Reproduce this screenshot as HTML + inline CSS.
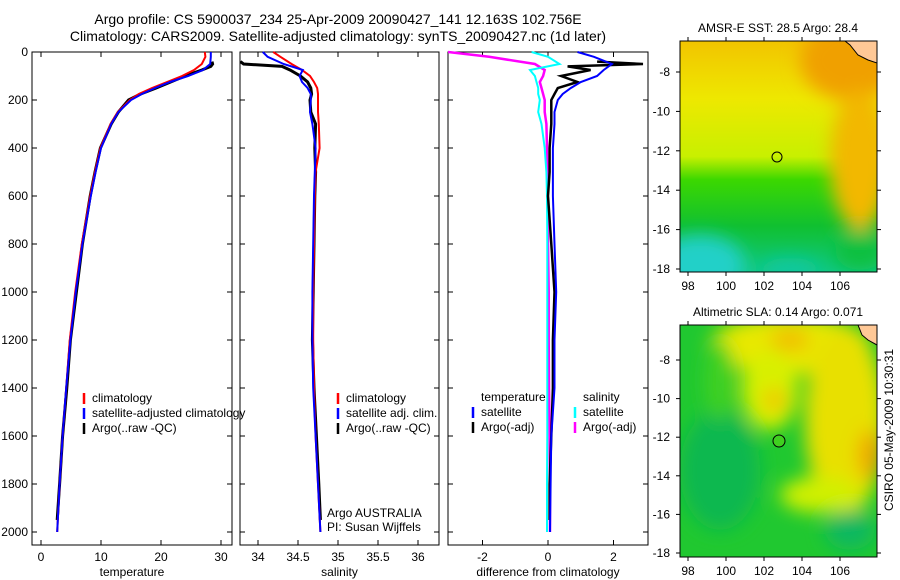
<!DOCTYPE html>
<html><head><meta charset="utf-8">
<style>
html,body{margin:0;padding:0;background:#fff;}
svg{display:block;font-family:"Liberation Sans",sans-serif;}
text{font-size:12px;fill:#000;}
</style></head>
<body>
<svg id="fig" width="900" height="580" viewBox="0 0 900 580">
<defs>
<filter id="blur" x="-20%" y="-20%" width="140%" height="140%"><feGaussianBlur stdDeviation="9"/></filter>
<clipPath id="clipM1"><rect x="680" y="41" width="197" height="231"/></clipPath>
<clipPath id="clipM2"><rect x="680" y="325" width="197" height="232"/></clipPath>
<linearGradient id="sstg" x1="0" y1="0" x2="0" y2="1">
<stop offset="0" stop-color="#f2c400"/><stop offset="0.25" stop-color="#eee800"/><stop offset="0.5" stop-color="#c8f000"/><stop offset="0.6" stop-color="#3cd800"/><stop offset="0.8" stop-color="#10c030"/><stop offset="1" stop-color="#10c880"/>
</linearGradient>
</defs>
<text x="338" y="24" text-anchor="middle" style="font-size:14px">Argo profile: CS 5900037_234 25-Apr-2009 20090427_141 12.163S 102.756E</text>
<text x="338" y="41" text-anchor="middle" style="font-size:14px">Climatology: CARS2009. Satellite-adjusted climatology: synTS_20090427.nc (1d later)</text>
<g id="panels"></g>

<g>
<g clip-path="url(#clipM1)">
<rect x="680" y="41" width="197" height="231" fill="url(#sstg)"/>
<g filter="url(#blur)">
<ellipse cx="850" cy="60" rx="50" ry="40" fill="#f0a000"/>
<ellipse cx="860" cy="160" rx="30" ry="70" fill="#f2b800"/>
<ellipse cx="700" cy="265" rx="45" ry="30" fill="#20d0c8"/>
<ellipse cx="790" cy="270" rx="30" ry="12" fill="#10c8a0"/>
<ellipse cx="860" cy="250" rx="25" ry="20" fill="#10c040"/>
</g>
<path d="M845 41 L850 45 L858 55 L868 60 L877 63 L877 41 Z" fill="#ffc896" stroke="#000" stroke-width="1"/>
</g>
<rect x="680" y="41" width="197" height="231" fill="none" stroke="#000"/>
<circle cx="777" cy="157" r="5" fill="none" stroke="#000"/>
</g>
<text x="778" y="32" text-anchor="middle">AMSR-E SST: 28.5 Argo: 28.4</text>

<g>
<g clip-path="url(#clipM2)">
<rect x="680" y="325" width="197" height="232" fill="#20c830"/>
<g filter="url(#blur)">
<ellipse cx="790" cy="345" rx="80" ry="30" fill="#e8e800"/>
<ellipse cx="845" cy="420" rx="40" ry="95" fill="#e8e000"/>
<ellipse cx="770" cy="390" rx="28" ry="40" fill="#d8f000"/>
<ellipse cx="775" cy="400" rx="12" ry="12" fill="#f0c800"/>
<ellipse cx="870" cy="455" rx="12" ry="25" fill="#f0a800"/>
<ellipse cx="790" cy="340" rx="20" ry="12" fill="#f0c000"/>
<ellipse cx="820" cy="495" rx="40" ry="18" fill="#d0f000"/>
<ellipse cx="720" cy="470" rx="40" ry="60" fill="#10b850"/>
<ellipse cx="850" cy="530" rx="25" ry="20" fill="#10b860"/>
<ellipse cx="720" cy="380" rx="15" ry="40" fill="#40d020"/>
</g>
<path d="M858 325 L862 335 L868 340 L877 345 L877 325 Z" fill="#ffc896" stroke="#000" stroke-width="1"/>
</g>
<rect x="680" y="325" width="197" height="232" fill="none" stroke="#000"/>
<circle cx="779" cy="441" r="6" fill="#40d020" stroke="#000"/>
</g>
<text x="778" y="316" text-anchor="middle">Altimetric SLA: 0.14 Argo: 0.071</text>
<text transform="translate(893,430) rotate(-90)" text-anchor="middle">CSIRO 05-May-2009 10:30:31</text>
<g id="mapaxes"></g>
</svg>
<script>
const tDepth = [0,20,50,75,100,125,150,175,200,250,300,400,500,600,800,1000,1200,1400,1600,1800,2000];
const tClim  = [27.3,27.4,26.8,25.5,23.5,21,18.5,16.3,14.8,12.8,11.6,9.9,9.0,8.2,6.8,5.7,4.8,4.2,3.6,3.1,2.7];
const tSat   = [28.3,28.3,28.2,27,24.5,21.5,19,16.8,15.0,12.9,11.7,10.0,9.1,8.3,6.9,5.8,4.9,4.2,3.6,3.1,2.7];
const argoDepth = [40,50,60,75,100,125,150,175,200,250,300,400,500,600,800,1000,1200,1400,1600,1800,1950];
const tArgo  = [28.5,28.6,28.3,26.8,24,21.6,19.2,16.6,14.6,12.9,11.7,9.9,9.0,8.2,6.9,5.9,4.9,4.3,3.6,3.1,2.7];
const sClim  = [34.19,34.28,34.42,34.55,34.65,34.70,34.74,34.75,34.75,34.75,34.76,34.77,34.72,34.71,34.70,34.69,34.69,34.70,34.72,34.75,34.78];
const sSat   = [34.06,34.12,34.32,34.56,34.52,34.55,34.62,34.66,34.66,34.65,34.68,34.72,34.71,34.70,34.69,34.68,34.68,34.69,34.72,34.75,34.78];
const sArgo  = [33.78,33.82,34.30,34.40,34.53,34.62,34.66,34.67,34.65,34.66,34.72,34.71,34.72,34.71,34.70,34.69,34.68,34.70,34.73,34.76,34.78];
const dTSat  = [0.9,1.4,1.95,1.7,1.5,1.0,0.7,0.45,0.3,0.2,0.2,0.15,0.15,0.15,0.2,0.25,0.2,0.2,0.1,0.08,0.06];
const dTArgo = [1.5,2.9,0.6,1.3,0.4,0.9,0.3,0.2,0.1,0.1,0.1,0.05,0.05,0.0,0.1,0.2,0.15,0.15,0.1,0.05,0.05];
const dSSat  = [-0.5,0.0,0.35,-0.55,-0.4,-0.35,-0.3,-0.3,-0.25,-0.3,-0.2,-0.1,-0.05,-0.03,-0.02,-0.02,-0.02,-0.02,-0.02,-0.03,-0.03];
const dSArgo = [-3.05,-1.8,-0.4,-0.1,-0.15,-0.25,-0.2,-0.15,-0.1,-0.1,-0.05,-0.03,-0.02,-0.01,0.0,0.02,0.02,0.03,0.05,0.06,0.06];
const depthTicks = [0,200,400,600,800,1000,1200,1400,1600,1800,2000];
const tTicks = [0,10,20,30];
const sTicks = [34,34.5,35,35.5,36];
const sTickLabels = ["34","34.5","35","35.5","36"];
const dTicks = [-2,0,2];
const lonTicks = [98,100,102,104,106];
const latTicks = [-8,-10,-12,-14,-16,-18];

const NS="http://www.w3.org/2000/svg";
const root=document.getElementById('panels');
function el(tag,attrs,parent){const e=document.createElementNS(NS,tag);for(const k in attrs)e.setAttribute(k,attrs[k]);(parent||root).appendChild(e);return e;}
const yD = d => 52 + d*0.24;
const xT = v => 41 + v*6;
const xS = v => 258 + (v-34)*80;
const xD = v => 548 + v*32.75;

function line(xs,ds,xf,color,w,name){
  const pts=xs.map((v,i)=>xf(v).toFixed(1)+','+yD(ds[i]).toFixed(1)).join(' ');
  const p=el('polyline',{points:pts,fill:'none',stroke:color,'stroke-width':w});
  
  
}
function panel(x0,x1,ticks,labels,xf,xlabel,name,showY){
  const r=el('rect',{x:x0,y:52,width:x1-x0,height:493,fill:'none',stroke:'#000'});
  
  
  ticks.forEach((t,i)=>{const x=xf(t);
    el('line',{x1:x,x2:x,y1:545,y2:540,stroke:'#000'});
    el('line',{x1:x,x2:x,y1:52,y2:57,stroke:'#000'});
    const tx=el('text',{x:x,y:561,'text-anchor':'middle'});tx.textContent=labels[i];
    
    
  });
  depthTicks.forEach(d=>{const y=yD(d);
    el('line',{x1:x0,x2:x0+5,y1:y,y2:y,stroke:'#000'});
    el('line',{x1:x1,x2:x1-5,y1:y,y2:y,stroke:'#000'});
    if(showY){const t=el('text',{x:28,y:y+4,'text-anchor':'end'});t.textContent=d;
      
      }
  });
  const xl=el('text',{x:(x0+x1)/2,y:576,'text-anchor':'middle'});xl.textContent=xlabel;
  
  
}
panel(32,232,tTicks,tTicks.map(String),xT,'temperature','temperature-panel',true);
panel(240,439,sTicks,sTickLabels,xS,'salinity','salinity-panel',false);
panel(448,648,dTicks,dTicks.map(String),xD,'difference from climatology','difference-panel',false);

line(tArgo,argoDepth,xT,'#000',3,'temp-argo-line');
line(tClim,tDepth,xT,'#f00',2,'temp-climatology-line');
line(tSat,tDepth,xT,'#00f',2,'temp-satellite-line');
line(sArgo,argoDepth,xS,'#000',3,'sal-argo-line');
line(sClim,tDepth,xS,'#f00',2,'sal-climatology-line');
line(sSat,tDepth,xS,'#00f',2,'sal-satellite-line');
line(dSArgo,tDepth,xD,'#f0f',2.5,'diff-sal-argo-line');
line(dSSat,tDepth,xD,'#0ff',2,'diff-sal-satellite-line');
line(dTArgo,argoDepth,xD,'#000',2.5,'diff-temp-argo-line');
line(dTSat,tDepth,xD,'#00f',2,'diff-temp-satellite-line');

function legend(x,y,items){items.forEach((it,i)=>{const yy=y+i*15;
  el('line',{x1:x,x2:x,y1:yy-9,y2:yy+2,stroke:it[1],'stroke-width':2.5});
  const t=el('text',{x:x+8,y:yy});t.textContent=it[0];
  
  });}
legend(84,402,[['climatology','#f00'],['satellite-adjusted climatology','#00f'],['Argo(..raw -QC)','#000']]);
legend(338,402,[['climatology','#f00'],['satellite adj. clim.','#00f'],['Argo(..raw -QC)','#000']]);
const lt=el('text',{x:481,y:401});lt.textContent='temperature';
const ls=el('text',{x:583,y:401});ls.textContent='salinity';
legend(473,416,[['satellite','#00f'],['Argo(-adj)','#000']]);
legend(575,416,[['satellite','#0ff'],['Argo(-adj)','#f0f']]);
const a1=el('text',{x:327,y:517});a1.textContent='Argo AUSTRALIA';
const a2=el('text',{x:327,y:531});a2.textContent='PI: Susan Wijffels';

const ma=document.getElementById('mapaxes');
function mapAxes(y0,y1,latY0,latStep){
  lonTicks.forEach(l=>{const x=688+(l-98)*19;
    el('line',{x1:x,x2:x,y1:y1,y2:y1+4,stroke:'#000'},ma);
    el('line',{x1:x,x2:x,y1:y0,y2:y0-4,stroke:'#000'},ma);
    const t=el('text',{x:x,y:y1+18,'text-anchor':'middle'},ma);t.textContent=l;
    
    });
  latTicks.forEach(l=>{const y=latY0+(-8-l)*latStep;
    el('line',{x1:676,x2:680,y1:y,y2:y,stroke:'#000'},ma);
    el('line',{x1:877,x2:881,y1:y,y2:y,stroke:'#000'},ma);
    const t=el('text',{x:670,y:y+4,'text-anchor':'end'},ma);t.textContent=l;
    
    });
}
mapAxes(41,272,72,19.7);
mapAxes(325,557,360,19.3);
</script>
</body></html>
